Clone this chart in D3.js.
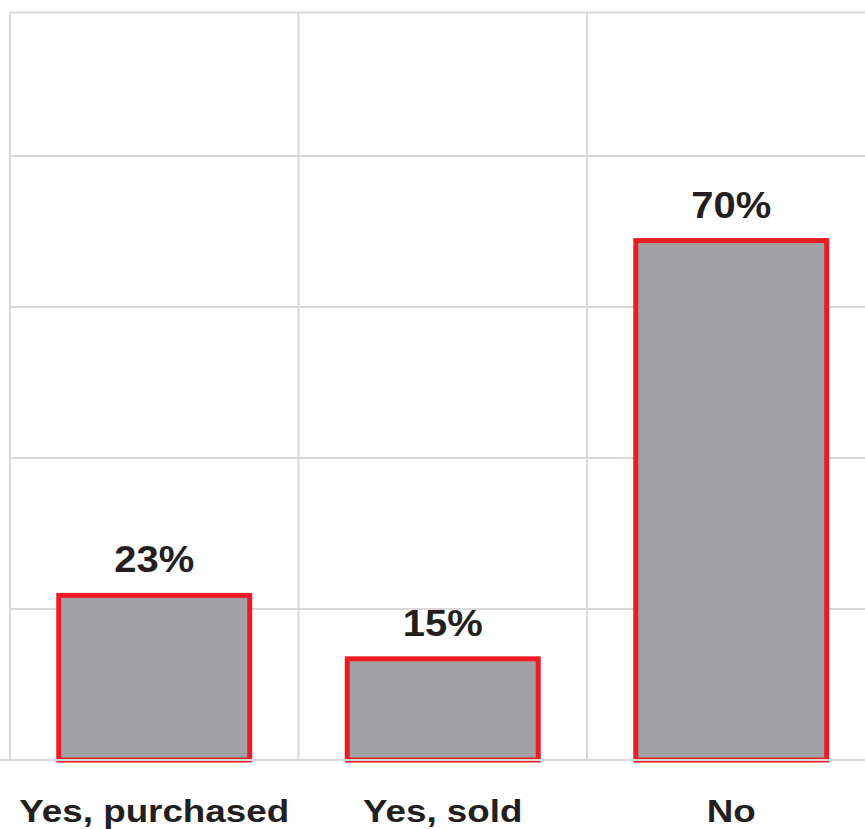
<!DOCTYPE html>
<html>
<head>
<meta charset="utf-8">
<script src="https://cdn.jsdelivr.net/npm/d3@7"></script>
<style>
  html, body { margin: 0; padding: 0; background: #ffffff; }
  svg { display: block; }
  text { font-family: "Liberation Sans", Arial, Helvetica, sans-serif; font-weight: bold; fill: #231f20; }
</style>
</head>
<body>
<svg id="chart" width="865" height="829"></svg>
<script>
// ---- data ----
const categories = ["Yes, purchased", "Yes, sold", "No"];
const barValues = [21.8, 13.4, 68.8];          // bar heights as drawn
const valueLabels = ["23%", "15%", "70%"];     // labels printed above bars
const gridTicks = [0, 20, 40, 60, 80];

(function () {
const svg = d3.select("#chart");
const W = 865;
const plotLeft = 10, plotRight = 875.5, plotTop = 12.5, plotBottom = 760;

const x = d3.scaleBand().domain(categories).range([plotLeft, plotRight])
  .paddingInner(0.338).paddingOuter(0.169);
const y = d3.scaleLinear().domain([0, 100]).range([plotBottom, 5]);

const grid = svg.append("g").attr("stroke", "#d9d9d9").attr("stroke-width", 2);
// horizontal gridlines (baseline drawn later on top of bars)
grid.selectAll("line.h").data(gridTicks.filter(d => d > 0)).join("line")
  .attr("x1", plotLeft).attr("x2", W).attr("y1", d => y(d)).attr("y2", d => y(d));
// top frame
grid.append("line").attr("x1", plotLeft).attr("x2", W).attr("y1", plotTop).attr("y2", plotTop);
// vertical gridlines at band boundaries
const step = x.step();
const vBounds = d3.range(categories.length + 1).map(i => plotLeft + i * step);
grid.selectAll("line.v").data(vBounds).join("line")
  .attr("x1", d => d).attr("x2", d => d).attr("y1", plotTop).attr("y2", plotBottom);

// bars
svg.append("g").selectAll("rect").data(categories).join("rect")
  .attr("x", d => x(d))
  .attr("width", x.bandwidth())
  .attr("y", (d, i) => y(barValues[i]))
  .attr("height", (d, i) => y(0) - y(barValues[i]))
  .attr("fill", "#a2a1a6")
  .attr("stroke", "#ed1c24")
  .attr("stroke-width", 5);

// baseline over bars
svg.append("line").attr("x1", 0).attr("x2", W).attr("y1", y(0)).attr("y2", y(0))
  .attr("stroke", "#d9d9d9").attr("stroke-width", 2);

// value labels
svg.append("g").selectAll("text").data(categories).join("text")
  .attr("transform", (d, i) => `translate(${x(d) + x.bandwidth() / 2},${y(barValues[i]) - 23}) scale(1.08,1)`)
  .attr("text-anchor", "middle")
  .style("font-size", "37px")
  .text((d, i) => valueLabels[i]);

// category labels
svg.append("g").selectAll("text").data(categories).join("text")
  .attr("transform", d => `translate(${x(d) + x.bandwidth() / 2},821.5) scale(1.15,1)`)
  .attr("text-anchor", "middle")
  .style("font-size", "32px")
  .text(d => d);
})();
</script>
</body>
</html>
